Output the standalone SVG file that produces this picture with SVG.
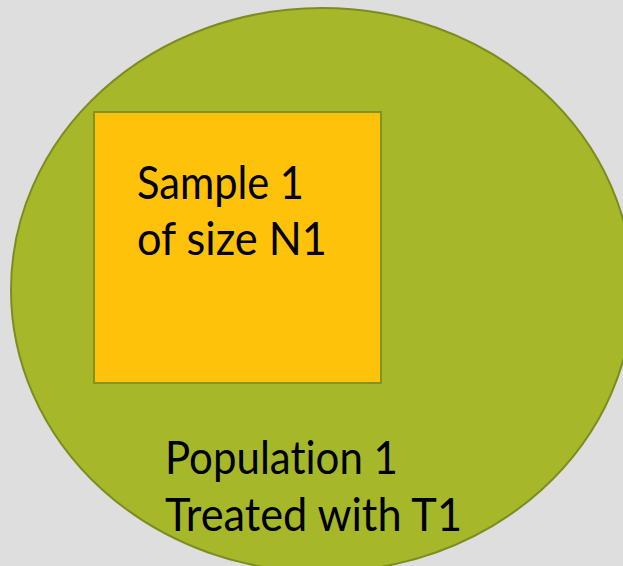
<svg xmlns="http://www.w3.org/2000/svg" width="623" height="566" viewBox="0 0 623 566">
<style>
.lbl{font-family:Lato,"Open Sans","Liberation Sans",sans-serif;font-size:46px;fill:#000;font-variant-ligatures:none}
</style>
<rect x="0" y="0" width="623" height="566" fill="#dedede"/>
<g id="population">
<ellipse cx="322" cy="290" rx="311" ry="282" fill="#a6b82a" stroke="#7d8c1f" stroke-width="2"/>
<text class="lbl" x="165" y="474" textLength="233" lengthAdjust="spacingAndGlyphs">Population 1</text>
<text class="lbl" x="165" y="531" textLength="297" lengthAdjust="spacingAndGlyphs">Treated with T1</text>
</g>
<g id="sample">
<rect x="94" y="112" width="287" height="271" fill="#ffc20a" stroke="#849320" stroke-width="2"/>
<text class="lbl" x="137" y="199" textLength="167" lengthAdjust="spacingAndGlyphs">Sample 1</text>
<text class="lbl" x="137" y="255" textLength="190" lengthAdjust="spacingAndGlyphs">of size N1</text>
</g>
<g id="connectors"/>
</svg>
